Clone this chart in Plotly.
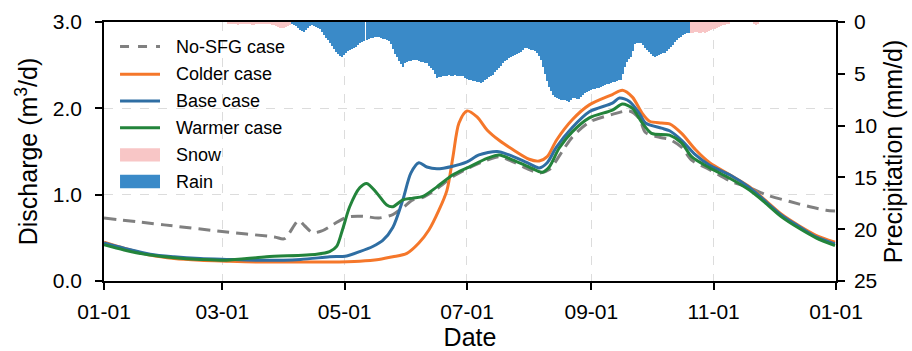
import pandas as pd
import plotly.graph_objects as go

START = pd.Timestamp("2021-01-01")

# ---- Discharge series (day of year offset, discharge m3/d) ----
nosfg_day = [0, 30, 60, 85, 90, 97, 100, 104, 108.6, 114, 121, 129, 137, 144, 149, 154, 159,
             166, 174, 182, 191, 197, 204, 212, 217, 222, 229, 233.6, 242, 253.5, 262, 267,
             270, 278, 282, 288, 293, 302, 313, 322, 330, 342, 352, 360, 364.5]
nosfg_q = [0.73, 0.65, 0.57, 0.51, 0.49, 0.70, 0.64, 0.56, 0.58, 0.65, 0.74, 0.75, 0.73, 0.77,
           0.85, 0.94, 0.97, 1.07, 1.21, 1.31, 1.40, 1.44, 1.38, 1.29, 1.25, 1.29, 1.52, 1.67,
           1.84, 1.93, 1.97, 1.88, 1.72, 1.66, 1.64, 1.55, 1.40, 1.29, 1.15, 1.08, 1.00, 0.92,
           0.86, 0.82, 0.81]

colder_day = [0, 10, 23, 35, 48, 61, 78, 98, 112.5, 127.5, 137, 144, 151, 157, 162, 167, 171,
              174, 177, 181, 186, 191, 197, 204, 212, 217, 221, 225.6, 233.6, 242, 253.5,
              258.5, 263.5, 268.4, 272, 278, 282, 288, 295, 302, 312, 322, 330, 338, 346.6,
              355, 364.5]
colder_q = [0.45, 0.38, 0.30, 0.26, 0.24, 0.23, 0.22, 0.22, 0.22, 0.23, 0.25, 0.28, 0.32, 0.44,
            0.59, 0.82, 1.05, 1.44, 1.83, 1.97, 1.90, 1.75, 1.63, 1.52, 1.41, 1.39, 1.44, 1.63,
            1.87, 2.04, 2.16, 2.21, 2.13, 1.94, 1.85, 1.83, 1.82, 1.71, 1.52, 1.37, 1.23, 1.09,
            0.93, 0.77, 0.64, 0.53, 0.45]

base_day = [0, 10, 23, 35, 48, 61, 78, 98, 112.5, 121, 127.5, 134, 139, 144, 149, 153, 157,
            161, 166, 174, 181, 187, 196, 202, 211, 217, 221, 225.6, 233.6, 242, 253.5, 257,
            262, 267, 270, 278, 282, 288, 295, 302, 312, 322, 330, 338, 346.6, 355, 364.5]
base_q = [0.44, 0.38, 0.31, 0.28, 0.26, 0.25, 0.24, 0.25, 0.28, 0.29, 0.34, 0.40, 0.47, 0.62,
          0.94, 1.25, 1.37, 1.32, 1.30, 1.33, 1.38, 1.46, 1.50, 1.46, 1.37, 1.31, 1.37, 1.55,
          1.78, 1.96, 2.06, 2.12, 2.08, 1.94, 1.83, 1.77, 1.74, 1.63, 1.46, 1.34, 1.23, 1.08,
          0.92, 0.76, 0.63, 0.51, 0.43]

warmer_day = [0, 10, 23, 35, 48, 61, 81, 106, 112.5, 116, 119, 122.5, 127.5, 131, 136, 141,
              144, 149, 154, 159, 166, 174, 182, 191, 197, 204, 212, 218.6, 222, 227, 233.6,
              242, 253.5, 258.5, 263.5, 268.4, 273, 282, 288, 293, 302, 312, 322, 330, 338,
              346.6, 355, 364.5]
warmer_q = [0.42, 0.36, 0.30, 0.27, 0.25, 0.24, 0.28, 0.31, 0.34, 0.40, 0.60, 0.86, 1.08, 1.13,
            1.02, 0.88, 0.86, 0.94, 0.96, 0.98, 1.09, 1.23, 1.32, 1.42, 1.46, 1.40, 1.32, 1.26,
            1.32, 1.54, 1.73, 1.89, 1.98, 2.05, 2.00, 1.83, 1.71, 1.69, 1.60, 1.44, 1.31, 1.19,
            1.05, 0.90, 0.74, 0.61, 0.50, 0.41]

# ---- Precipitation (mm/d), daily ----
snow_day = list(range(62, 94)) + list(range(293, 313)) + [324, 325, 326]
snow_mm = [0.1, 0.1, 0.2, 0.2, 0.2, 0.3, 0.2, 0.2, 0.1, 0.1, 0.2, 0.2, 0.3, 0.3, 0.2, 0.2,
           0.1, 0.1, 0.1, 0.2, 0.2, 0.2, 0.3, 0.3, 0.4, 0.5, 0.6, 0.6, 0.6, 0.5, 0.4, 0.3,
           1.1, 1.1, 1.0, 1.0, 1.1, 1.1, 1.0, 1.1, 1.0, 0.9, 0.8, 0.7, 0.7, 0.6, 0.5, 0.4,
           0.3, 0.3, 0.2, 0.1,
           0.2, 0.3, 0.2]

rain_day = list(range(94, 293))
rain_mm = [0.2, 0.3, 0.4, 0.6, 0.8, 0.9, 1.0, 0.8, 0.6, 0.4, 0.3, 0.4, 0.5, 0.6, 0.7, 1.0,
           1.3, 1.5, 1.7, 2.0, 2.3, 2.6, 2.9, 3.1, 3.3, 3.4, 3.2, 3.0, 2.8, 2.7, 2.6, 2.5,
           2.4, 2.2, 2.0, 1.9, 1.8, 1.7, 1.6, 1.5, 1.5, 1.4, 1.4, 1.4, 1.5, 1.6, 1.6, 1.7,
           1.8, 2.1, 2.6, 3.1, 3.4, 3.8, 4.1, 4.3, 4.0, 3.9, 3.8, 3.8, 3.7, 3.7, 3.7, 3.8,
           3.9, 3.9, 4.0, 4.0, 4.2, 4.4, 4.6, 5.0, 5.4, 5.3, 5.3, 5.2, 5.2, 5.2, 5.1, 5.2,
           5.2, 5.1, 5.2, 5.2, 5.2, 5.2, 5.4, 5.5, 5.6, 5.6, 5.7, 5.7, 5.8, 5.8, 5.9, 5.8,
           5.6, 5.5, 5.3, 5.2, 5.1, 4.8, 4.6, 4.4, 4.2, 4.0, 3.8, 3.7, 3.5, 3.4, 3.3, 3.2,
           3.1, 3.0, 2.9, 2.7, 2.5, 2.5, 2.6, 2.7, 2.7, 2.8, 3.0, 3.3, 3.7, 4.3, 5.0, 5.7,
           6.3, 6.7, 7.0, 7.2, 7.3, 7.4, 7.5, 7.5, 7.5, 7.6, 7.7, 7.5, 7.3, 7.3, 7.4, 7.4,
           7.2, 7.0, 6.9, 6.8, 6.7, 6.6, 6.5, 6.5, 6.4, 6.4, 6.3, 6.2, 6.1, 6.0, 6.0, 5.9,
           5.8, 5.8, 5.7, 5.6, 5.6, 5.0, 4.3, 3.9, 3.6, 3.4, 2.8, 2.1, 2.0, 2.0, 2.0, 2.2,
           2.5, 2.7, 2.9, 3.1, 3.3, 3.4, 3.3, 3.2, 3.1, 3.0, 3.0, 2.8, 2.6, 2.4, 2.2, 1.9,
           1.7, 1.5, 1.4, 1.3, 1.2, 1.1, 1.1]

tick_dates = ["2021-01-01", "2021-03-01", "2021-05-01", "2021-07-01",
              "2021-09-01", "2021-11-01", "2022-01-01"]
tick_text = ["01-01", "03-01", "05-01", "07-01", "09-01", "11-01", "01-01"]

FONT = "Arial, Liberation Sans, sans-serif"
C_NOSFG = "#808080"
C_COLD = "#f5772a"
C_BASE = "#2f6ea3"
C_WARM = "#23843b"
C_SNOW = "#f8c6c6"
C_RAIN = "#3a8ac8"


def to_dates(days):
    return START + pd.to_timedelta(days, unit="D")


DAY_MS = 86400000

fig = go.Figure()

# precipitation bars hang from the top on the reversed right-hand axis
fig.add_trace(go.Bar(x=to_dates(snow_day), y=snow_mm, width=0.72 * DAY_MS,
                     marker=dict(color=C_SNOW, line=dict(width=0)),
                     name="Snow", yaxis="y", showlegend=False))
fig.add_trace(go.Bar(x=to_dates(rain_day), y=rain_mm, width=0.72 * DAY_MS,
                     marker=dict(color=C_RAIN, line=dict(width=0)),
                     name="Rain", yaxis="y", showlegend=False))

lines = [
    ("No-SFG case", nosfg_day, nosfg_q, C_NOSFG, "12px,7px"),
    ("Colder case", colder_day, colder_q, C_COLD, "solid"),
    ("Base case", base_day, base_q, C_BASE, "solid"),
    ("Warmer case", warmer_day, warmer_q, C_WARM, "solid"),
]
for name, d, q, c, dash in lines:
    fig.add_trace(go.Scatter(x=to_dates(d), y=q, mode="lines", name=name, yaxis="y2",
                             line=dict(color=c, width=3, dash=dash, shape="spline",
                                       smoothing=0.8),
                             showlegend=False))

# legend drawn in the upper-left corner of the plotting area
leg_rows = [0.905, 0.7985, 0.695, 0.592, 0.487, 0.384]
leg_x0, leg_x1, leg_tx = 0.0219, 0.0765, 0.0956
shapes = []
annotations = []
for i, (name, _, _, c, dash) in enumerate(lines):
    yy = leg_rows[i]
    shapes.append(dict(type="line", xref="paper", yref="paper", x0=leg_x0, x1=leg_x1,
                       y0=yy, y1=yy, line=dict(color=c, width=3,
                                               dash="dash" if dash != "solid" else "solid")))
    annotations.append(dict(text=name, xref="paper", yref="paper", x=leg_tx, y=yy,
                            xanchor="left", yanchor="middle", showarrow=False,
                            font=dict(size=18, color="black", family=FONT)))
for j, (name, c) in enumerate([("Snow", C_SNOW), ("Rain", C_RAIN)]):
    yy = leg_rows[4 + j]
    shapes.append(dict(type="rect", xref="paper", yref="paper", x0=leg_x0, x1=leg_x1,
                       y0=yy - 0.026, y1=yy + 0.026, fillcolor=c, line=dict(width=0)))
    annotations.append(dict(text=name, xref="paper", yref="paper", x=leg_tx, y=yy,
                            xanchor="left", yanchor="middle", showarrow=False,
                            font=dict(size=18, color="black", family=FONT)))

fig.update_layout(
    width=912, height=351,
    margin=dict(l=104, r=76, t=22, b=70),
    plot_bgcolor="white", paper_bgcolor="white",
    font=dict(family=FONT, size=20, color="black"),
    barmode="overlay", bargap=0,
    shapes=shapes, annotations=annotations,
    xaxis=dict(
        range=["2021-01-01", "2022-01-01"],
        tickvals=tick_dates, ticktext=tick_text, automargin=False,
        showline=True, linecolor="black", linewidth=1.5, mirror=True,
        ticks="outside", ticklen=7, tickwidth=1.5, tickcolor="black",
        ticklabelstandoff=4,
        showgrid=True, gridcolor="#dcdcdc", gridwidth=1, griddash="dash",
        tickfont=dict(size=21), zeroline=False,
        title=dict(text="Date", font=dict(size=25), standoff=8),
    ),
    yaxis=dict(
        side="right", range=[25, 0], tickvals=[0, 5, 10, 15, 20, 25], automargin=False,
        showline=True, linecolor="black", linewidth=1.5,
        ticks="outside", ticklen=7, tickwidth=1.5, tickcolor="black",
        ticklabelstandoff=5,
        showgrid=False, zeroline=False, tickfont=dict(size=21),
        title=dict(text="Precipitation (mm/d)", font=dict(size=25), standoff=8),
    ),
    yaxis2=dict(
        side="left", overlaying="y", range=[0, 3], tickvals=[0, 1, 2, 3],
        tickformat=".1f", automargin=False,
        showline=True, linecolor="black", linewidth=1.5,
        ticks="outside", ticklen=7, tickwidth=1.5, tickcolor="black",
        ticklabelstandoff=9,
        showgrid=True, gridcolor="#dcdcdc", gridwidth=1, griddash="dash",
        zeroline=False, tickfont=dict(size=21),
        title=dict(text="Discharge (m<sup>3</sup>/d)", font=dict(size=25), standoff=8),
    ),
)

fig.write_html("out.html")
